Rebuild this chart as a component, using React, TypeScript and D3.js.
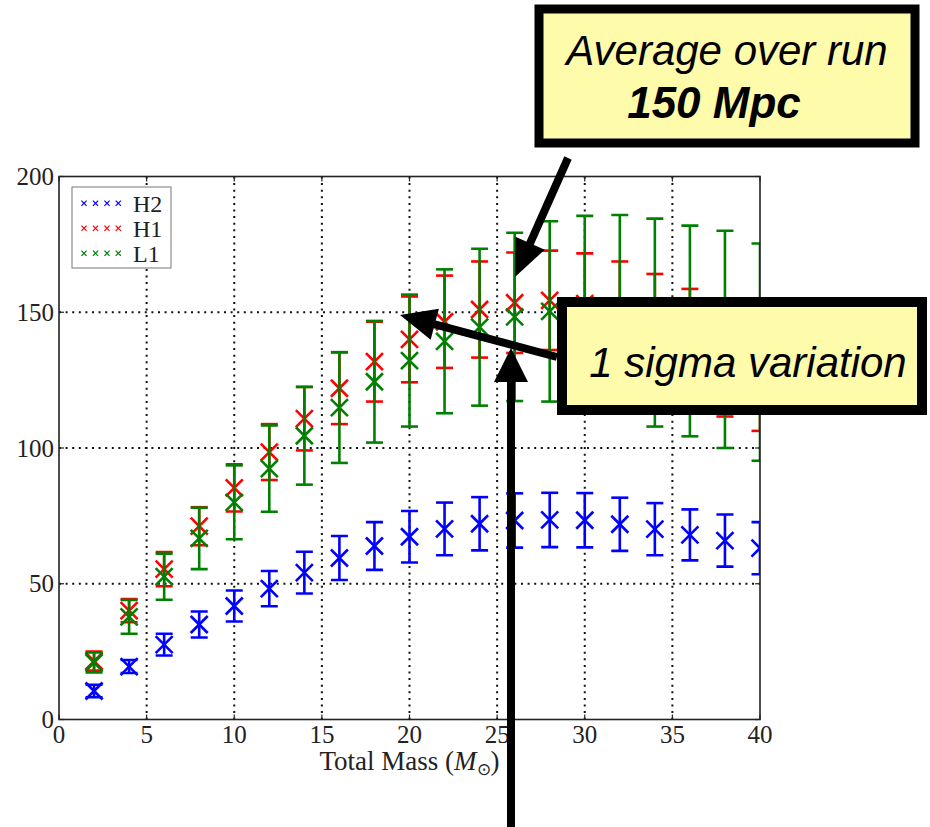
import React from 'react';
import * as d3 from 'd3';

// total mass bins
const masses = [2, 4, 6, 8, 10, 12, 14, 16, 18, 20, 22, 24, 26, 28, 30, 32, 34, 36, 38, 40];

// horizon distance means and 1 sigma
const h2Mean = [10.5, 19.5, 27.6, 35, 41.8, 48.2, 54.1, 59.5, 63.9, 67.3, 70.2, 72.1, 73.3, 73.5, 73.4, 71.9, 70.1, 68, 65.9, 63.1];
const h2Err = [2.3, 2.4, 4, 4.8, 5.7, 6.5, 7.7, 8.1, 8.8, 9.5, 9.7, 9.8, 10, 10, 10, 9.8, 9.6, 9.4, 9.6, 9.6];
const h1Mean = [21.5, 40.1, 55.4, 71.2, 85.3, 98.5, 110.8, 122, 131.8, 140, 146.5, 151, 153.5, 154.4, 153.2, 150, 145.3, 139.6, 130.6, 125.5];
const h1Err = [3.5, 4.3, 6.3, 7, 8.7, 10.3, 11.7, 13.2, 14.7, 15.8, 17, 17.7, 18.5, 18.3, 18.5, 18.7, 18.8, 19, 19, 19.2];
const l1Mean = [21, 37.8, 52.6, 66.7, 80, 92.4, 104.5, 114.9, 124.4, 132.2, 139.3, 144.5, 148.3, 150.3, 151, 149.8, 146.2, 143.1, 140, 135.3];
const l1Err = [3.7, 6.2, 8.5, 11.3, 13.6, 15.9, 18, 20.4, 22.4, 24.3, 26.5, 28.9, 31, 33.2, 34.5, 36, 38.3, 38.8, 40, 40];

const xTicks = [0, 5, 10, 15, 20, 25, 30, 35, 40];
const yTicks = [0, 50, 100, 150, 200];

const series = [
  { name: 'H2', color: '#0000ff', mean: h2Mean, err: h2Err },
  { name: 'H1', color: '#ff0000', mean: h1Mean, err: h1Err },
  { name: 'L1', color: '#008000', mean: l1Mean, err: l1Err },
];

const W = 930;
const H = 827;
const font = '"Liberation Serif", "Times New Roman", serif';
const sans = '"Liberation Sans", Arial, sans-serif';

const x = d3.scaleLinear().domain([0, 40]).range([59, 760]);
const y = d3.scaleLinear().domain([0, 200]).range([719.5, 176.5]);

// arrow as shaft + triangular head
function Arrow({ x1, y1, x2, y2, head = 36, half = 16, width = 8 }: any) {
  const dx = x1 - x2;
  const dy = y1 - y2;
  const len = Math.hypot(dx, dy);
  const ux = dx / len;
  const uy = dy / len;
  const bx = x2 + ux * head;
  const by = y2 + uy * head;
  const px = -uy;
  const py = ux;
  const pts = [
    [x2, y2],
    [bx + px * half, by + py * half],
    [bx - px * half, by - py * half],
  ];
  return (
    <g>
      <line x1={x1} y1={y1} x2={bx - ux * 2} y2={by - uy * 2} stroke="#000" strokeWidth={width} />
      <polygon points={pts.map(p => p.join(',')).join(' ')} fill="#000" />
    </g>
  );
}

export default function App() {
  const [x0, x1] = x.range();
  const [y0, y1] = y.range();
  const ms = 8.5; // marker half size
  const cap = 8.5;

  return (
    <svg width={W} height={H} style={{ position: 'absolute', left: 0, top: 0, background: '#fff' }}>
      <defs>
        <clipPath id="plotClip">
          <rect x={x0} y={y1} width={x1 - x0} height={y0 - y1} />
        </clipPath>
      </defs>

      {/* grid */}
      <g stroke="#111" strokeWidth={2} strokeDasharray="2,4.6">
        {xTicks.slice(1, -1).map(t => (
          <line key={'gx' + t} x1={x(t)} x2={x(t)} y1={y1} y2={y0} />
        ))}
        {yTicks.slice(1, -1).map(t => (
          <line key={'gy' + t} x1={x0} x2={x1} y1={y(t)} y2={y(t)} />
        ))}
      </g>

      {/* data */}
      <g clipPath="url(#plotClip)" strokeWidth={2.6} fill="none">
        {series.map(s => (
          <g key={s.name} stroke={s.color}>
            {masses.map((m, i) => {
              const cx = x(m);
              const cy = y(s.mean[i]);
              const top = y(s.mean[i] + s.err[i]);
              const bot = y(s.mean[i] - s.err[i]);
              return (
                <g key={m}>
                  <line x1={cx} x2={cx} y1={top} y2={bot} />
                  <line x1={cx - cap} x2={cx + cap} y1={top} y2={top} />
                  <line x1={cx - cap} x2={cx + cap} y1={bot} y2={bot} />
                  <line x1={cx - ms} x2={cx + ms} y1={cy - ms} y2={cy + ms} />
                  <line x1={cx - ms} x2={cx + ms} y1={cy + ms} y2={cy - ms} />
                </g>
              );
            })}
          </g>
        ))}
      </g>

      {/* frame and ticks */}
      <rect x={x0} y={y1} width={x1 - x0} height={y0 - y1} fill="none" stroke="#222" strokeWidth={1.6} />
      <g stroke="#222" strokeWidth={1.2}>
        {xTicks.map(t => (
          <g key={'tx' + t}>
            <line x1={x(t)} x2={x(t)} y1={y0} y2={y0 - 5} />
            <line x1={x(t)} x2={x(t)} y1={y1} y2={y1 + 5} />
          </g>
        ))}
        {yTicks.map(t => (
          <g key={'ty' + t}>
            <line x1={x0} x2={x0 + 5} y1={y(t)} y2={y(t)} />
            <line x1={x1} x2={x1 - 5} y1={y(t)} y2={y(t)} />
          </g>
        ))}
      </g>
      <g fontFamily={font} fontSize={25} fill="#222">
        {xTicks.map(t => (
          <text key={'lx' + t} x={x(t)} y={743} textAnchor="middle">{t}</text>
        ))}
        {yTicks.map(t => (
          <text key={'ly' + t} x={54} y={y(t) + 8.5} textAnchor="end">{t}</text>
        ))}
        <text x={(x0 + x1) / 2} y={770} textAnchor="middle" fontSize={27}>
          Total Mass (<tspan fontStyle="italic">M</tspan>
          <tspan fontSize={17} dy={5}>⊙</tspan>
          <tspan dy={-5}>)</tspan>
        </text>
      </g>

      {/* legend */}
      <g>
        <rect x={72} y={187} width={99} height={81} fill="#fff" stroke="#777" strokeWidth={1} />
        {series.map((s, i) => {
          const ly = 203.3 + i * 25;
          return (
            <g key={'leg' + s.name}>
              {[84, 95.5, 107, 118.3].map(lx => (
                <g key={lx} stroke={s.color} strokeWidth={1.2}>
                  <line x1={lx - 2.6} x2={lx + 2.6} y1={ly - 2.6} y2={ly + 2.6} />
                  <line x1={lx - 2.6} x2={lx + 2.6} y1={ly + 2.6} y2={ly - 2.6} />
                </g>
              ))}
              <text x={133} y={ly + 9} fontFamily={font} fontSize={24} fill="#222">{s.name}</text>
            </g>
          );
        })}
      </g>

      {/* annotations */}
      <Arrow x1={568} y1={158} x2={515} y2={277} head={37} half={16} />
      <Arrow x1={557} y1={357} x2={400} y2={315} head={36} half={16} />
      <Arrow x1={511} y1={840} x2={511} y2={348} head={34} half={17} />

      <rect x={539} y={9} width={376} height={134} fill="#fefbaa" stroke="#000" strokeWidth={9} />
      <text x={727} y={65} textAnchor="middle" fontFamily={sans} fontStyle="italic" fontSize={42} fill="#000">
        Average over run
      </text>
      <text x={714} y={118} textAnchor="middle" fontFamily={sans} fontStyle="italic" fontWeight="bold" fontSize={44} fill="#000">
        150 Mpc
      </text>

      <rect x={562} y={302} width={360} height={108} fill="#fefbaa" stroke="#000" strokeWidth={10} />
      <text x={748} y={377} textAnchor="middle" fontFamily={sans} fontStyle="italic" fontSize={42} fill="#000">
        1 sigma variation
      </text>
    </svg>
  );
}
